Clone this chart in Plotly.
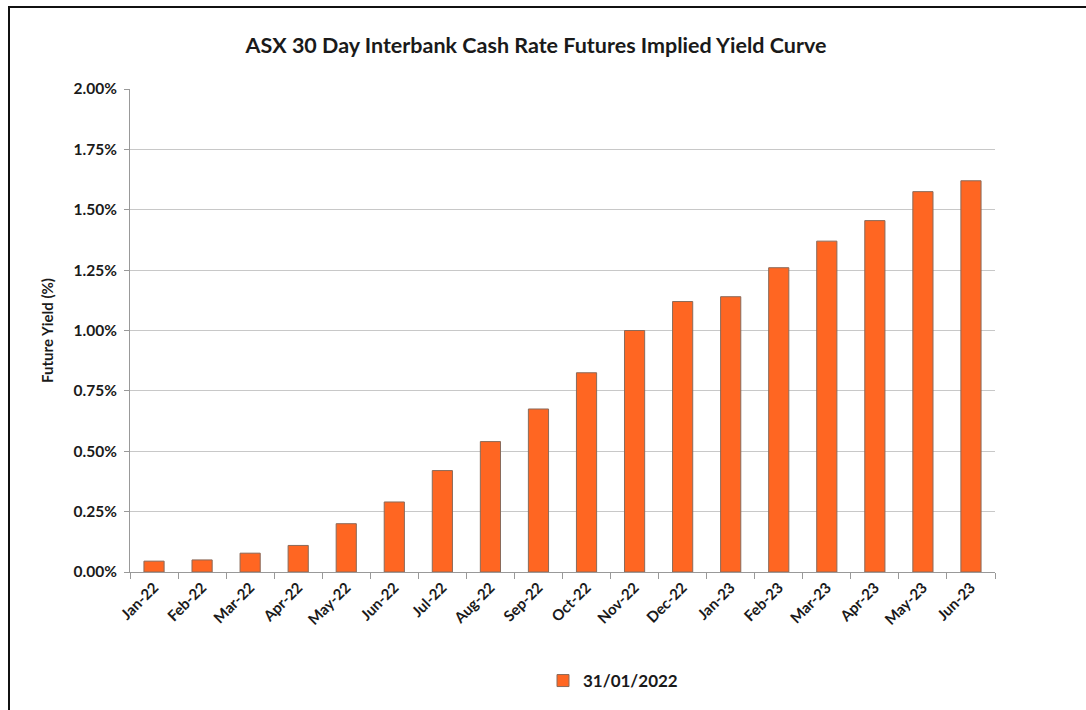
import plotly.graph_objects as go

months = ["Jan-22", "Feb-22", "Mar-22", "Apr-22", "May-22", "Jun-22", "Jul-22", "Aug-22",
          "Sep-22", "Oct-22", "Nov-22", "Dec-22", "Jan-23", "Feb-23", "Mar-23", "Apr-23",
          "May-23", "Jun-23"]
yield_pct = [0.045, 0.05, 0.078, 0.11, 0.20, 0.29, 0.42, 0.54, 0.675, 0.825, 1.00, 1.12,
             1.14, 1.26, 1.37, 1.455, 1.575, 1.62]
series_name = "31/01/2022"
y_ticks = [0.0, 0.0025, 0.005, 0.0075, 0.01, 0.0125, 0.015, 0.0175, 0.02]

values = [v / 100 for v in yield_pct]

FONT = "Lato, 'Open Sans', sans-serif"
W, H = 1086, 710
L, R, T, B = 130, 91, 89, 138
pw, ph = W - L - R, H - T - B

def px_x(p):
    return (p - L) / pw

def px_y(p):
    return (H - B - p) / ph

fig = go.Figure()
fig.add_trace(go.Bar(
    x=months, y=values, name=series_name,
    marker=dict(color="#FF6622", line=dict(color="#8a6a5a", width=1)),
    showlegend=True,
))

fig.update_layout(
    width=W, height=H,
    margin=dict(l=L, r=R, t=T, b=B, autoexpand=False),
    paper_bgcolor="white", plot_bgcolor="white",
    font=dict(family=FONT, color="#1a1a1a"),
    bargap=0.58,
    title=dict(text="<b>ASX 30 Day Interbank Cash Rate Futures Implied Yield Curve</b>",
               x=536 / W, xref="container", xanchor="center",
               y=1 - 45 / H, yref="container", yanchor="middle",
               font=dict(size=21.5, family=FONT, color="#1a1a1a")),
    xaxis=dict(
        type="category", tickangle=-45, tickson="boundaries",
        ticks="outside", ticklen=6, tickcolor="#999999",
        showline=True, linecolor="#999999", linewidth=1,
        showgrid=False,
        tickfont=dict(size=15, family=FONT, color="#1a1a1a", weight="bold"),
    ),
    yaxis=dict(
        range=[0, 0.02], tickvals=y_ticks, tickformat=".2%",
        ticks="outside", ticklen=5, tickcolor="#999999",
        showline=True, linecolor="#999999", linewidth=1,
        showgrid=True, gridcolor="#c8c8c8", gridwidth=1.3,
        zeroline=False, ticklabelstandoff=4,
        tickfont=dict(size=15.5, family=FONT, color="#1a1a1a", weight="bold"),
        title=dict(text="<b>Future Yield (%)</b>", font=dict(size=15, family=FONT, color="#1a1a1a"),
                   standoff=16),
    ),
    legend=dict(orientation="h", x=px_x(543), xanchor="left",
                y=px_y(681), yanchor="middle",
                font=dict(size=17, family=FONT, color="#1a1a1a", weight="bold"),
                bgcolor="rgba(0,0,0,0)"),
    shapes=[dict(type="rect", xref="paper", yref="paper",
                 x0=px_x(9), x1=px_x(1110), y0=px_y(730), y1=px_y(7),
                 line=dict(color="#111111", width=2), fillcolor="rgba(0,0,0,0)",
                 layer="above")],
)

fig.write_html("out.html")
